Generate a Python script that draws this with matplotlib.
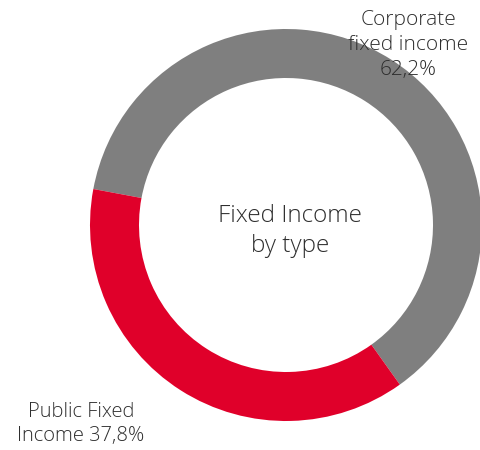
import matplotlib
matplotlib.use("Agg")
import matplotlib.pyplot as plt

categories = ["Corporate\nfixed income", "Public Fixed\nIncome"]
values = [62.2, 37.8]
value_labels = ["62,2%", "37,8%"]
colors = ["#7F7F7F", "#E0002A"]
center_text = "Fixed Income\nby type"

W, H = 481, 450
fig = plt.figure(figsize=(W / 100, H / 100), dpi=100)
cx, cy, R = 286, 225, 196
ax = fig.add_axes([(cx - R) / W, (H - cy - R) / H, 2 * R / W, 2 * R / H])
ax.pie(values, colors=colors, startangle=-54.5, counterclock=True, radius=1.0,
       wedgeprops=dict(width=0.25, edgecolor="none", linewidth=0))
ax.set_xlim(-1, 1)
ax.set_ylim(-1, 1)
ax.set_aspect("equal")
ax.axis("off")

font = dict(family=["Open Sans", "DejaVu Sans"], fontweight="light", color="#2E2E2E")

def ftext(x, y, s, size, ls):
    fig.text(x / W, 1 - y / H, s, ha="center", va="center", linespacing=ls,
             fontsize=size, **font)

ftext(290, 231, center_text, 17.5, 1.3)
ftext(408, 45, categories[0] + "\n" + value_labels[0], 15, 1.3)
ftext(81, 424, categories[1] + " " + value_labels[1], 14.5, 1.3)

fig.savefig("out.png", dpi=100)
